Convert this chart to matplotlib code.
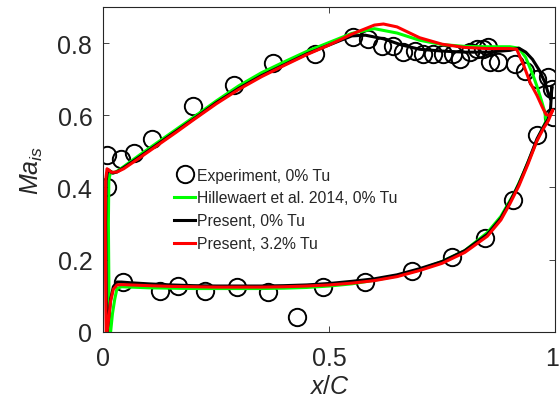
import matplotlib
matplotlib.use("Agg")
import matplotlib.pyplot as plt
import matplotlib.transforms as mtransforms

plt.rcParams['font.family'] = ['Liberation Sans', 'DejaVu Sans']
plt.rcParams['mathtext.fontset'] = 'custom'
plt.rcParams['mathtext.it'] = 'Liberation Sans:italic'
plt.rcParams['mathtext.rm'] = 'Liberation Sans'

#Experiment, 0% Tu (suction side then pressure side)
exp_x = [0.008, 0.007, 0.039, 0.068, 0.107, 0.199, 0.289, 0.376, 0.468, 0.553, 0.586, 0.617,
         0.641, 0.663, 0.690, 0.708, 0.730, 0.752, 0.774, 0.790, 0.812, 0.827, 0.840, 0.852,
         0.856, 0.874, 0.911, 0.934, 0.960, 0.985, 0.993, 0.996, 0.960,
         0.907, 0.845, 0.772, 0.683, 0.580, 0.486, 0.428, 0.364, 0.295, 0.225, 0.165,
         0.125, 0.044]
exp_y = [0.400, 0.490, 0.480, 0.496, 0.535, 0.626, 0.684, 0.745, 0.770, 0.817, 0.812, 0.792,
         0.792, 0.775, 0.778, 0.770, 0.770, 0.770, 0.770, 0.756, 0.775, 0.784, 0.784, 0.789,
         0.748, 0.748, 0.742, 0.723, 0.700, 0.706, 0.673, 0.596, 0.546,
         0.366, 0.260, 0.208, 0.168, 0.138, 0.125, 0.040, 0.111, 0.125, 0.114, 0.128,
         0.114, 0.138]

#Hillewaert et al. 2014, 0% Tu
hil_x = [0.013, 0.012, 0.011, 0.012, 0.016, 0.022, 0.030, 0.045, 0.08, 0.12, 0.16, 0.20,
         0.25, 0.30, 0.35, 0.40, 0.45, 0.50, 0.55, 0.60, 0.65, 0.70, 0.75, 0.80, 0.85,
         0.90, 0.92, 0.935, 0.950, 0.960, 0.970, 0.977, 0.980, 0.975, 0.965, 0.950, 0.930,
         0.910, 0.880, 0.850, 0.800, 0.750, 0.700, 0.650, 0.600, 0.550, 0.500, 0.450, 0.400,
         0.350, 0.300, 0.250, 0.200, 0.150, 0.100, 0.060, 0.040, 0.030, 0.025, 0.020, 0.016]
hil_y = [0.000, 0.150, 0.300, 0.420, 0.445, 0.440, 0.445, 0.458, 0.490, 0.525, 0.560, 0.595,
         0.640, 0.682, 0.718, 0.748, 0.777, 0.802, 0.827, 0.840, 0.828, 0.808, 0.796, 0.791,
         0.790, 0.790, 0.786, 0.760, 0.715, 0.680, 0.640, 0.610, 0.585, 0.570, 0.545, 0.500,
         0.440, 0.385, 0.320, 0.275, 0.225, 0.195, 0.172, 0.155, 0.143, 0.133, 0.127, 0.123,
         0.121, 0.120, 0.120, 0.120, 0.120, 0.121, 0.122, 0.124, 0.125, 0.120, 0.090, 0.050,
         0.000]

#Present, 0% Tu
blk_x = [0.007, 0.006, 0.005, 0.006, 0.010, 0.020, 0.030, 0.045, 0.08, 0.12, 0.16, 0.20,
         0.25, 0.30, 0.35, 0.40, 0.45, 0.50, 0.55, 0.58, 0.62, 0.66, 0.70, 0.75, 0.80, 0.85,
         0.90, 0.92, 0.935, 0.950, 0.965, 0.978, 0.985, 0.990, 0.993, 0.990, 0.985, 0.975,
         0.960, 0.940, 0.920, 0.900, 0.880, 0.850, 0.800, 0.750, 0.700, 0.650, 0.600, 0.550,
         0.500, 0.450, 0.400, 0.350, 0.300, 0.250, 0.200, 0.150, 0.100, 0.060, 0.040, 0.030,
         0.022, 0.016, 0.012, 0.008]
blk_y = [0.000, 0.150, 0.300, 0.420, 0.450, 0.440, 0.443, 0.455, 0.485, 0.520, 0.555, 0.590,
         0.635, 0.675, 0.710, 0.740, 0.770, 0.795, 0.820, 0.822, 0.812, 0.795, 0.783, 0.778,
         0.775, 0.775, 0.780, 0.786, 0.775, 0.755, 0.725, 0.690, 0.660, 0.645, 0.680, 0.620,
         0.590, 0.570, 0.535, 0.470, 0.410, 0.360, 0.315, 0.270, 0.225, 0.195, 0.175, 0.158,
         0.147, 0.140, 0.134, 0.130, 0.128, 0.127, 0.127, 0.127, 0.128, 0.130, 0.133, 0.136,
         0.138, 0.138, 0.125, 0.090, 0.045, 0.000]

#Present, 3.2% Tu
red_x = [0.006, 0.005, 0.004, 0.005, 0.008, 0.018, 0.030, 0.045, 0.08, 0.12, 0.16, 0.20,
         0.25, 0.30, 0.35, 0.40, 0.45, 0.50, 0.55, 0.60, 0.62, 0.65, 0.70, 0.75, 0.80, 0.85,
         0.90, 0.915, 0.930, 0.945, 0.960, 0.972, 0.980, 0.988, 0.995, 0.990, 0.985, 0.975,
         0.960, 0.940, 0.920, 0.900, 0.880, 0.850, 0.800, 0.750, 0.700, 0.650, 0.600, 0.550,
         0.500, 0.450, 0.400, 0.350, 0.300, 0.250, 0.200, 0.150, 0.100, 0.060, 0.040, 0.030,
         0.022, 0.016, 0.012, 0.008]
red_y = [0.000, 0.150, 0.300, 0.420, 0.452, 0.442, 0.443, 0.452, 0.482, 0.517, 0.552, 0.588,
         0.632, 0.672, 0.707, 0.738, 0.768, 0.795, 0.825, 0.850, 0.853, 0.845, 0.815, 0.797,
         0.788, 0.785, 0.785, 0.783, 0.740, 0.690, 0.655, 0.622, 0.602, 0.600, 0.615, 0.600,
         0.585, 0.565, 0.530, 0.465, 0.405, 0.355, 0.310, 0.265, 0.220, 0.190, 0.170, 0.153,
         0.142, 0.135, 0.130, 0.127, 0.125, 0.124, 0.124, 0.124, 0.125, 0.126, 0.128, 0.130,
         0.131, 0.130, 0.118, 0.085, 0.040, 0.000]

fig = plt.figure(figsize=(5.59, 4.02), dpi=100)
ax = fig.add_axes([0.185, 0.172, 0.808, 0.808])

tc = '#262626'
ax.plot(exp_x, exp_y, 'o', mfc='none', mec='k', ms=12.5, mew=1.4, label='Experiment, 0% Tu')
ax.plot(hil_x, hil_y, '-', color=(0, 1, 0), lw=2.2, label='Hillewaert et al. 2014, 0% Tu')
ax.plot(blk_x, blk_y, '-', color='k', lw=2.2, label='Present, 0% Tu')
ax.plot(red_x, red_y, '-', color=(1, 0, 0), lw=2.2, label='Present, 3.2% Tu')

ax.set_xlim(0, 1)
ax.set_ylim(0, 0.9)
ax.set_xticks([0, 0.5, 1])
ax.set_xticklabels(['0', '0.5', '1'])
ax.set_yticks([0, 0.2, 0.4, 0.6, 0.8])
ax.set_yticklabels(['0', '0.2', '0.4', '0.6', '0.8'])
ax.tick_params(direction='in', top=True, right=True, labelsize=18, colors=tc, length=4.5, width=0.6)
ax.tick_params(axis='x', pad=10)
ax.tick_params(axis='y', pad=8)
for s in ax.spines.values():
    s.set_color(tc)
    s.set_linewidth(0.8)

# nudge the "1" label a little so it stays inside the figure
lab = ax.get_xticklabels()[-1]
lab.set_transform(lab.get_transform() + mtransforms.ScaledTranslation(-3 / 100, 0, fig.dpi_scale_trans))

ax.set_xlabel('$\\mathit{x/C}$', fontsize=18, color=tc, labelpad=3)
ax.set_ylabel('$\\mathit{Ma}_{\\mathit{is}}$', fontsize=18, color=tc, labelpad=9)

leg = ax.legend(loc='upper left', bbox_to_anchor=(0.14, 0.53), frameon=False, fontsize=11.3,
                handlelength=1.3, handletextpad=0.15, labelspacing=0.5, borderpad=0)
for t in leg.get_texts():
    t.set_color(tc)

fig.savefig('out.png', dpi=100)
